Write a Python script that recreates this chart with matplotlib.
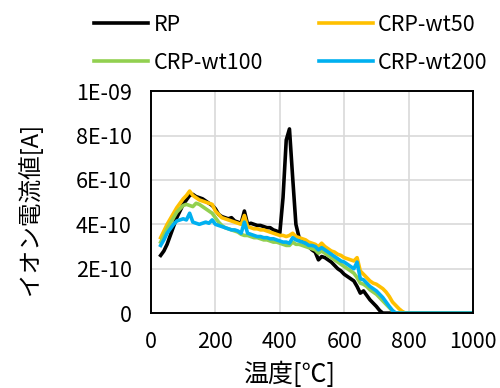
import numpy as np
import matplotlib
matplotlib.use("Agg")
import matplotlib.pyplot as plt

plt.rcParams['font.family'] = ['Noto Sans CJK JP', 'DejaVu Sans']

temps = [30, 40, 50, 60, 70, 80, 90, 100, 110, 120, 130, 140, 150, 160, 170, 180, 190, 200,
         210, 220, 230, 240, 250, 260, 270, 280, 290, 300, 310, 320, 330, 340, 350, 360, 370,
         380, 390, 400, 410, 420, 430, 440, 450, 460, 470, 480, 490, 500, 510, 520, 530, 540,
         550, 560, 570, 580, 590, 600, 610, 620, 630, 640, 650, 660, 670, 680, 690, 700, 710,
         720, 730, 740, 750, 760, 770, 780, 790, 800, 1000]

# values in units of 1E-10 A
rp = [2.6, 2.8, 3.1, 3.5, 3.9, 4.3, 4.6, 4.9, 5.1, 5.3, 5.35, 5.25, 5.2, 5.15, 5.05, 4.95, 4.85, 4.7,
      4.45, 4.35, 4.3, 4.25, 4.3, 4.15, 4.1, 4.05, 4.6, 4.0, 4.05, 4.0, 3.95, 3.95, 3.9, 3.85, 3.85,
      3.75, 3.7, 3.6, 5.2, 7.8, 8.3, 6.1, 4.0, 3.4, 3.3, 3.15, 3.0, 2.85, 2.75, 2.4, 2.55, 2.5,
      2.4, 2.3, 2.15, 2.0, 1.9, 1.75, 1.65, 1.55, 1.45, 1.2, 0.9, 1.0, 0.8, 0.6, 0.45, 0.3, 0.12,
      0.0, 0.0, 0.0, 0.0, 0.0, 0.0, 0.0, 0.0, 0.0, 0.0]

wt50 = [3.4, 3.7, 4.0, 4.25, 4.5, 4.75, 4.95, 5.15, 5.3, 5.5, 5.3, 5.2, 5.1, 5.05, 5.0, 4.95, 4.9, 4.6,
        4.45, 4.3, 4.25, 4.2, 4.15, 4.1, 4.05, 4.0, 4.4, 3.9, 3.85, 3.8, 3.8, 3.75, 3.75, 3.7, 3.65,
        3.6, 3.55, 3.5, 3.5, 3.45, 3.5, 3.6, 3.45, 3.4, 3.35, 3.3, 3.2, 3.15, 3.1, 3.0, 3.15, 3.0,
        2.9, 2.8, 2.75, 2.65, 2.6, 2.5, 2.45, 2.4, 2.35, 2.5, 1.9, 1.75, 1.6, 1.45, 1.35, 1.3, 1.2,
        1.1, 0.95, 0.75, 0.5, 0.35, 0.2, 0.08, 0.0, 0.0, 0.0]

wt100 = [3.2, 3.5, 3.8, 4.05, 4.3, 4.55, 4.7, 4.85, 4.9, 4.85, 4.8, 4.95, 4.9, 4.8, 4.7, 4.6, 4.5, 4.3,
         4.1, 3.95, 3.85, 3.8, 3.75, 3.7, 3.65, 3.55, 3.5, 3.5, 3.45, 3.4, 3.4, 3.35, 3.3, 3.3, 3.25,
         3.2, 3.2, 3.15, 3.1, 3.05, 3.05, 3.2, 3.1, 3.1, 3.05, 3.0, 2.95, 2.9, 2.85, 2.7, 2.8, 2.7,
         2.6, 2.5, 2.4, 2.3, 2.2, 2.1, 2.0, 1.9, 1.8, 1.6, 1.35, 1.3, 1.2, 1.05, 0.95, 0.85, 0.7,
         0.55, 0.4, 0.25, 0.1, 0.0, 0.0, 0.0, 0.0, 0.0, 0.0]

wt200 = [3.05, 3.3, 3.6, 3.8, 4.0, 4.15, 4.2, 4.25, 4.2, 4.5, 4.1, 4.05, 4.0, 4.05, 4.1, 4.05, 4.2, 4.0,
         3.95, 3.9, 3.85, 3.8, 3.75, 3.75, 3.7, 3.6, 4.1, 3.6, 3.55, 3.5, 3.45, 3.45, 3.4, 3.4, 3.35,
         3.35, 3.3, 3.25, 3.2, 3.2, 3.15, 3.4, 3.3, 3.25, 3.2, 3.15, 3.05, 3.05, 3.0, 2.85, 2.95, 2.85,
         2.75, 2.65, 2.55, 2.45, 2.35, 2.3, 2.2, 2.1, 2.0, 2.3, 1.55, 1.5, 1.35, 1.2, 1.1, 1.0, 0.85,
         0.7, 0.5, 0.3, 0.12, 0.0, 0.0, 0.0, 0.0, 0.0, 0.0]

series_names = ['RP', 'CRP-wt50', 'CRP-wt100', 'CRP-wt200']
series_colors = ['#000000', '#FFC000', '#92D050', '#00B0F0']
xticks = [0, 200, 400, 600, 800, 1000]
yticks = [0, 2e-10, 4e-10, 6e-10, 8e-10, 1e-9]
ytick_labels = ['0', '2E-10', '4E-10', '6E-10', '8E-10', '1E-09']

fig = plt.figure(figsize=(5.0, 3.88), dpi=100)
ax = fig.add_axes([0.302, 0.193, 0.644, 0.572])

handles = []
for vals, name, col in zip([rp, wt50, wt100, wt200], series_names, series_colors):
    h, = ax.plot(temps, np.array(vals) * 1e-10, color=col, lw=2.6, label=name,
                 solid_joinstyle='round')
    handles.append(h)

ax.set_xlim(0, 1000)
ax.set_ylim(0, 1e-9)
ax.set_xticks(xticks)
ax.set_xticklabels([str(t) for t in xticks])
ax.set_yticks(yticks)
ax.set_yticklabels(ytick_labels)
ax.grid(True, color='#D9D9D9', lw=1.2)
ax.set_axisbelow(True)
ax.tick_params(axis='y', length=0, labelsize=15.5, pad=14)
ax.tick_params(axis='x', length=0, labelsize=15.5, pad=13)
for s in ax.spines.values():
    s.set_linewidth(1.4)
    s.set_color('black')

ax.set_xlabel('温度[℃]', fontsize=18)
ax.xaxis.set_label_coords(0.43, -0.22)
ax.set_ylabel('イオン電流値[A]', fontsize=17)
ax.yaxis.set_label_coords(-0.34, 0.47)

order = [0, 2, 1, 3]
fig.legend([handles[i] for i in order], [series_names[i] for i in order],
           loc='upper left', bbox_to_anchor=(0.15, 1.015), ncol=2, frameon=False,
           fontsize=15.5, handlelength=2.5, handletextpad=0.25, columnspacing=2.6,
           labelspacing=0.75)

fig.savefig('out.png', dpi=100)
